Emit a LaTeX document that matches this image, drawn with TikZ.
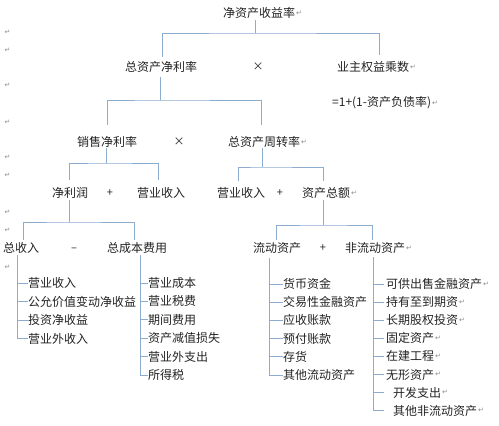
\documentclass[tikz,border=0pt]{standalone}
\usepackage{fontspec}
\newfontfamily\cjk{Noto Sans CJK SC}
\newfontfamily\pmfont{DejaVu Sans}
\definecolor{lineblue}{RGB}{140,172,208}
\definecolor{txtcol}{RGB}{35,35,35}
\definecolor{pmcol}{RGB}{140,140,140}
\tikzset{
  ln/.style={draw=lineblue, line width=0.95pt},
  tx/.style={anchor=west, inner sep=0pt, font=\cjk\fontsize{12}{12}\selectfont, text=txtcol},
  op/.style={anchor=center, inner sep=0pt, font=\cjk\fontsize{11}{12}\selectfont, text=txtcol},
  pm/.style={anchor=west, inner sep=0pt, xshift=0.5pt, font=\pmfont\fontsize{7}{7}\selectfont, text=pmcol},
}
\begin{document}
\begin{tikzpicture}[x=1pt,y=-1pt]
\useasboundingbox (0,0) rectangle (499,426);
% left margin paragraph marks
\foreach \yy [count=\i] in {32,50,85,122,157,175,212,230,267}
  \node[pm] (lm\i) at (4,\yy) {↵};
% row 1
\node[tx] (roe) at (223,13) {净资产收益率};
\node[pm] (pm1) at (roe.east) {↵};
% row 2
\node[tx] (roa) at (125,67) {总资产净利率};
\node[op] (x1) at (258,67) {×};
\node[tx] (em) at (337,67) {业主权益乘数};
\node[pm] (pm2) at (em.east) {↵};
\node[tx] (emf) at (332,103) {=1+(1-资产负债率)};
\node[pm] (pm3) at (emf.east) {↵};
% row 3
\node[tx] (npm) at (77,142) {销售净利率};
\node[op] (x2) at (179,142) {×};
\node[tx] (tat) at (228,142) {总资产周转率};
\node[pm] (pm4) at (tat.east) {↵};
% row 4
\node[tx] (np) at (52,193) {净利润};
\node[op] (p1) at (110,193) {+};
\node[tx] (rev1) at (137,193) {营业收入};
\node[tx] (rev2) at (217,193) {营业收入};
\node[op] (p2) at (280,193) {+};
\node[tx] (ta) at (302,193) {资产总额};
\node[pm] (pm5) at (ta.east) {↵};
% row 5
\node[tx] (tr) at (3,248) {总收入};
\node[op] (m1) at (74,250) {–};
\node[tx] (tc) at (107,248) {总成本费用};
\node[tx] (ca) at (253,248) {流动资产};
\node[op] (p3) at (323,248) {+};
\node[tx] (nca) at (345,248) {非流动资产};
\node[pm] (pm6) at (nca.east) {↵};

% tree connectors
\coordinate (j1) at (255,33);
\draw[ln] (255,20) -- (j1);
\draw[ln] (162,57) |- (j1) -| (379,55);
\coordinate (j2) at (160,100);
\draw[ln] (160,77) -- (j2);
\draw[ln] (107,125) |- (j2) -| (261,125);
\coordinate (j3) at (106,163);
\draw[ln] (106,148) -- (j3);
\draw[ln] (69,180) |- (j3) -| (158,180);
\coordinate (j4) at (262,167);
\draw[ln] (262,148) -- (j4);
\draw[ln] (238,181) |- (j4) -| (323,181);
\coordinate (j5) at (69,222);
\draw[ln] (69,200) -- (j5);
\draw[ln] (23,240) |- (j5) -| (134,240);
\coordinate (j6) at (323,225);
\draw[ln] (323,200) -- (j6);
\draw[ln] (276,240) |- (j6) -| (372,240);

% bracket A: total revenue
\draw[ln] (17,255) -- (17,339);
\foreach \t [count=\i] in {营业收入,公允价值变动净收益,投资净收益,营业外收入}{
  \pgfmathsetmacro\yy{283+18.5*(\i-1)}
  \node[tx] (a\i) at (28,\yy) {\t};
  \draw[ln] (17,\yy) -- (a\i.west);
}
% bracket B: total cost
\draw[ln] (140,255) -- (140,375);
\foreach \t [count=\i] in {营业成本,营业税费,期间费用,资产减值损失,营业外支出,所得税}{
  \pgfmathsetmacro\yy{283+18.4*(\i-1)}
  \node[tx] (b\i) at (148,\yy) {\t};
  \draw[ln] (140,\yy) -- (b\i.west);
}
% bracket C: current assets
\draw[ln] (269,258) -- (269,375);
\foreach \t [count=\i] in {货币资金,交易性金融资产,应收账款,预付账款,存货,其他流动资产}{
  \pgfmathsetmacro\yy{284+18.2*(\i-1)}
  \node[tx] (c\i) at (283,\yy) {\t};
  \draw[ln] (269,\yy) -- (c\i.west);
}
% bracket D: non-current assets
\draw[ln] (373,257) -- (373,411);
\foreach \t/\xx [count=\i] in {可供出售金融资产/386,持有至到期资/386,长期股权投资/386,固定资产\ /386,在建工程/386,无形资产/386,开发支出/393,其他非流动资产/393}{
  \pgfmathsetmacro\yy{284+18.1*(\i-1)}
  \node[tx] (d\i) at (\xx,\yy) {\t};
  \node[pm] (dpm\i) at (d\i.east) {↵};
  \draw[ln] (373,\yy) -- (384,\yy);
}
\end{tikzpicture}
\end{document}
